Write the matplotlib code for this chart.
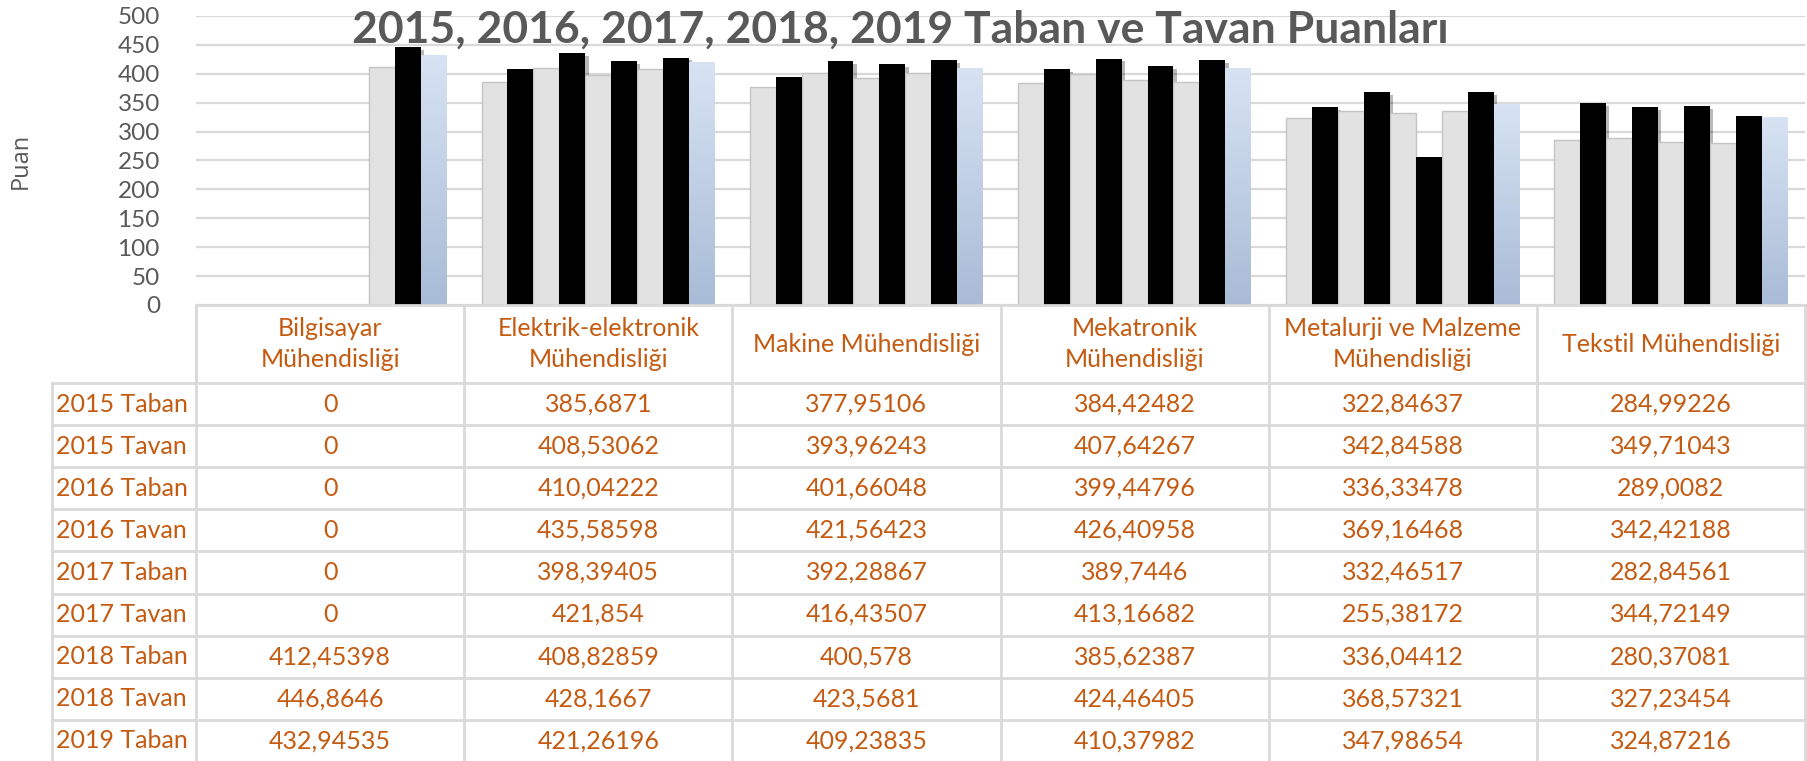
import matplotlib
matplotlib.use('Agg')
import matplotlib.pyplot as plt
import numpy as np
from matplotlib.lines import Line2D
from matplotlib.patches import Rectangle
from matplotlib.colors import LinearSegmentedColormap

categories = ['Bilgisayar\nMühendisliği', 'Elektrik-elektronik\nMühendisliği',
              'Makine Mühendisliği', 'Mekatronik\nMühendisliği',
              'Metalurji ve Malzeme\nMühendisliği', 'Tekstil Mühendisliği']
series_names = ['2015 Taban', '2015 Tavan', '2016 Taban', '2016 Tavan', '2017 Taban',
                '2017 Tavan', '2018 Taban', '2018 Tavan', '2019 Taban']

taban_2015 = [0, 385.6871, 377.95106, 384.42482, 322.84637, 284.99226]
tavan_2015 = [0, 408.53062, 393.96243, 407.64267, 342.84588, 349.71043]
taban_2016 = [0, 410.04222, 401.66048, 399.44796, 336.33478, 289.0082]
tavan_2016 = [0, 435.58598, 421.56423, 426.40958, 369.16468, 342.42188]
taban_2017 = [0, 398.39405, 392.28867, 389.7446, 332.46517, 282.84561]
tavan_2017 = [0, 421.854, 416.43507, 413.16682, 255.38172, 344.72149]
taban_2018 = [412.45398, 408.82859, 400.578, 385.62387, 336.04412, 280.37081]
tavan_2018 = [446.8646, 428.1667, 423.5681, 424.46405, 368.57321, 327.23454]
taban_2019 = [432.94535, 421.26196, 409.23835, 410.37982, 347.98654, 324.87216]

series = [taban_2015, tavan_2015, taban_2016, tavan_2016, taban_2017,
          tavan_2017, taban_2018, tavan_2018, taban_2019]
yticks = list(range(0, 501, 50))

W, H = 1807, 761
fig = plt.figure(figsize=(W / 100, H / 100), dpi=100)
plt.rcParams['font.family'] = ['Lato', 'DejaVu Sans']

orange = '#c55a11'
gridc = '#d9d9d9'
textgray = '#595959'

# pixel layout
plot_l, plot_r = 196, 1805
plot_t, plot_b = 16, 305
lab_l = 52
head_b = 383
row_h = 42.1


def fx(x):
    return x / W


def fy(y):
    return 1 - y / H


ax = fig.add_axes([fx(plot_l), fy(plot_b), (plot_r - plot_l) / W, (plot_b - plot_t) / H])
ax.set_xlim(-0.5, len(categories) - 0.5)
ax.set_ylim(0, 500)
for s in ax.spines.values():
    s.set_visible(False)
ax.set_xticks([])
ax.set_yticks(yticks)
ax.tick_params(axis='y', length=0, pad=26, labelsize=17.5, labelcolor=textgray)
ax.yaxis.grid(True, color=gridc, lw=1.6)
ax.set_axisbelow(True)
fig.text(fx(21), fy(161), 'Puan', rotation=90, ha='center', va='center',
         family=['Open Sans', 'DejaVu Sans'], fontsize=17, color=textgray)

bw = 0.0967
x = np.arange(len(categories))
grad = np.linspace(0, 1, 100).reshape(-1, 1)
bluecm = LinearSegmentedColormap.from_list('b', ['#a9bbd6', '#d7e3f3'])

for j, vals in enumerate(series):
    xs = x + (j - 4) * bw
    name = series_names[j]
    if 'Tavan' in name:
        # soft shadow
        for xi, v in zip(xs, vals):
            if v > 0:
                ax.add_patch(Rectangle((xi - bw / 2 + 0.012, 0), bw, v - 5,
                                       color='black', alpha=0.28, lw=0, zorder=2))
        ax.bar(xs, vals, bw, color='black', zorder=3)
    elif name == '2019 Taban':
        bars = ax.bar(xs, vals, bw, color='none', lw=0, zorder=3)
        for b, xi, v in zip(bars, xs, vals):
            im = ax.imshow(grad, extent=[xi - bw / 2, xi + bw / 2, 0, v], origin='lower',
                           cmap=bluecm, aspect='auto', zorder=3)
            im.set_clip_path(b)
    else:
        ax.bar(xs, vals, bw, color='#e2e2e2', edgecolor='#c4c4c4', lw=1, zorder=2.5)

ax.set_xlim(-0.5, len(categories) - 0.5)
ax.set_ylim(0, 500)

fig.text(fx(900), fy(43), '2015, 2016, 2017, 2018, 2019 Taban ve Tavan Puanları',
         ha='center', va='baseline', fontsize=32, fontweight='bold', color=textgray)

# data table
col_w = (plot_r - plot_l) / len(categories)
lw = 2
lines = []
lines.append(((plot_l, plot_r), (plot_b, plot_b)))
lines.append(((plot_l, plot_l), (plot_b, head_b)))
for i in range(len(series_names) + 1):
    yy = head_b + i * row_h
    lines.append(((lab_l, plot_r), (yy, yy)))
lines.append(((lab_l, lab_l), (head_b, H + 5)))
for c in range(len(categories) + 1):
    xx = plot_l + c * col_w
    lines.append(((xx, xx), (plot_b, H + 5)))
for (xa, xb), (ya, yb) in lines:
    fig.add_artist(Line2D([fx(xa), fx(xb)], [fy(ya), fy(yb)], color=gridc, lw=lw))

for c, cat in enumerate(categories):
    cx = plot_l + (c + 0.5) * col_w
    fig.text(fx(cx), fy((plot_b + head_b) / 2), cat, ha='center', va='center',
             fontsize=18, color=orange, linespacing=1.4)


def fmt(v):
    if float(v).is_integer():
        return str(int(v))
    return repr(v).replace('.', ',')


for j, vals in enumerate(series):
    cy = head_b + (j + 0.5) * row_h
    fig.text(fx(lab_l + 4), fy(cy), series_names[j], ha='left', va='center',
             fontsize=18, color=orange)
    for c, v in enumerate(vals):
        cx = plot_l + (c + 0.5) * col_w
        fig.text(fx(cx), fy(cy), fmt(v), ha='center', va='center', fontsize=18, color=orange)

fig.savefig('out.png', dpi=100, facecolor='white')
